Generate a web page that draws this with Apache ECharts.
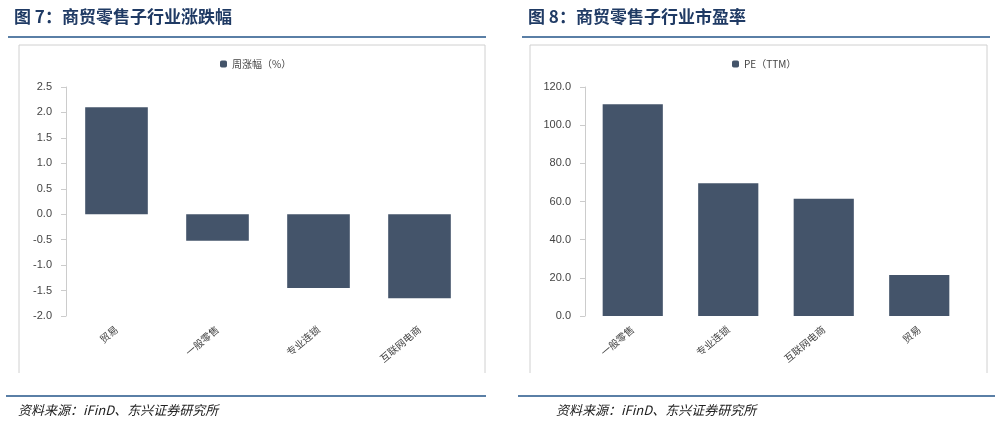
<!DOCTYPE html><html><head><meta charset="utf-8"><script src="https://cdn.jsdelivr.net/npm/echarts@6/dist/echarts.min.js"></script></head><body style="margin:0"><div id="c" style="width:999px;height:425px"></div><script>
const catsL=['贸易','一般零售','专业连锁','互联网电商'];
const valsL=[2.1,-0.52,-1.45,-1.65];
const catsR=['一般零售','专业连锁','互联网电商','贸易'];
const valsR=[111.0,69.5,61.5,21.5];
const C='#44546a',F='"Noto Sans CJK SC"';
const ch=echarts.init(document.getElementById('c'));
const ttl=(x,t)=>({type:'text',left:x,top:8,style:{text:t,font:'bold 17px '+F,fill:'#1f3a64'}});
const ln=(x1,x2,y)=>({type:'line',shape:{x1,y1:y,x2,y2:y},style:{stroke:'#5a7fa6',lineWidth:2}});
const fr=(x1,x2)=>({type:'polyline',shape:{points:[[x1,373],[x1,45],[x2,45],[x2,373]]},style:{stroke:'#d0d0d0',fill:null,lineWidth:1}});
const src=x=>({type:'text',left:x,top:404,style:{text:'资料来源：iFinD、东兴证券研究所',font:'italic 13px '+F,fill:'#222'}});
const yax=(gi,min,max,iv,fmt)=>({gridIndex:gi,type:'value',min,max,interval:iv,axisLine:{show:true,lineStyle:{color:'#ccc'}},axisTick:{show:true,lineStyle:{color:'#ccc'}},splitLine:{show:false},axisLabel:{color:'#444',fontSize:11,formatter:v=>v.toFixed(1),margin:14}});
const xax=(gi,d)=>({gridIndex:gi,type:'category',data:d,position:'bottom',axisLine:{show:false},axisTick:{show:false},axisLabel:{rotate:40,color:'#444',fontSize:10,fontFamily:F,margin:12,interval:0}});
ch.setOption({animation:false,
graphic:[ttl(14,'图 7：商贸零售子行业涨跌幅'),ttl(528,'图 8：商贸零售子行业市盈率'),ln(8,486,37),ln(522,990,37),fr(19,485),fr(530,987),ln(6,486,396),ln(518,995,396),src(18),src(556)],
legend:[{data:['周涨幅（%）'],left:215,top:54,itemWidth:7,itemHeight:7,textStyle:{fontSize:10,color:'#444',fontFamily:F}},{data:['PE（TTM）'],left:727,top:54,itemWidth:7,itemHeight:7,textStyle:{fontSize:10,color:'#444',fontFamily:F}}],
grid:[{left:66,right:999-470,top:87,bottom:425-316},{left:585,right:999-967,top:87,bottom:425-316}],
xAxis:[xax(0,catsL),xax(1,catsR)],
yAxis:[yax(0,-2,2.5,0.5),yax(1,0,120,20)],
series:[{name:'周涨幅（%）',type:'bar',data:valsL,barWidth:'62%',itemStyle:{color:C}},{name:'PE（TTM）',type:'bar',xAxisIndex:1,yAxisIndex:1,data:valsR,barWidth:'63%',itemStyle:{color:C}}]});
</script></body></html>
